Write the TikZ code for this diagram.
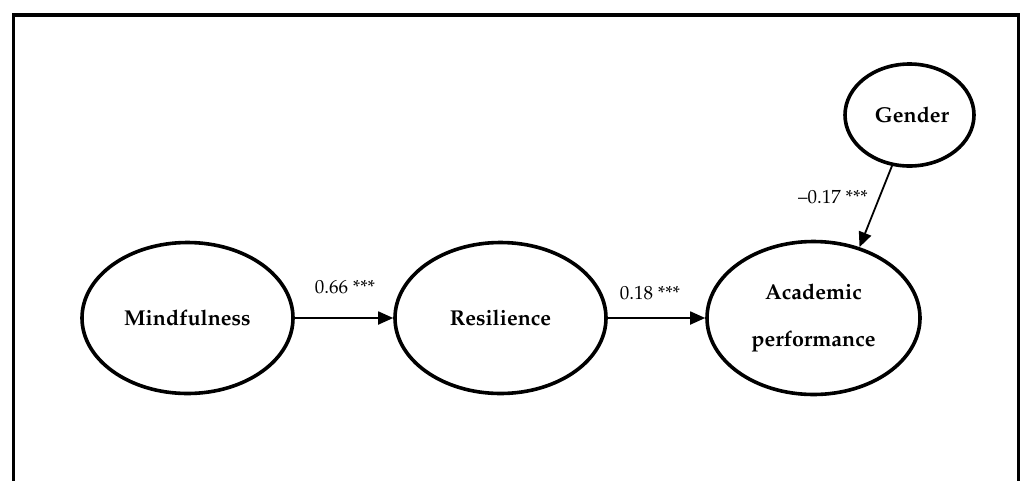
\documentclass[tikz,border=0pt]{standalone}
\usepackage[T1]{fontenc}
\usepackage{mathpazo}
\usetikzlibrary{shapes.geometric,arrows.meta}
\tikzset{
  latent/.style={ellipse, draw, line width=3.6pt, inner sep=0pt, align=center,
    font=\fontsize{21.5}{43}\selectfont\bfseries},
  path/.style={line width=1.8pt, -{Triangle[length=15pt,width=13pt]}},
  coef/.style={font=\fontsize{19}{22}\selectfont, inner sep=0pt},
  frame/.style={line width=3.6pt}
}
\begin{document}
\begin{tikzpicture}[x=1pt,y=-1pt]
\useasboundingbox (0,0) rectangle (1022,480);
\coordinate (fbl) at (13.5,482);
\coordinate (ftl) at (13.5,15);
\coordinate (ftr) at (1018.5,15);
\coordinate (fbr) at (1018.5,482);
\draw[frame] (fbl) -- (ftl) -- (ftr) -- (fbr);
\node[latent, minimum width=211pt, minimum height=151pt] (mind) at (187.5,318) {Mindfulness};
\node[latent, minimum width=211pt, minimum height=151pt] (res) at (500.5,318) {Resilience};
\node[latent, minimum width=213pt, minimum height=153pt] (acad) at (813.5,318) {Academic\\[4pt]performance};
\node[latent, minimum width=129pt, minimum height=102pt] (gen) at (909.5,115) {\hspace*{5pt}Gender};
\draw[path] (mind.east) -- (res.west);
\draw[path] (res.east) -- (acad.west);
\draw[path] (gen.-109) -- (acad.57);
\node[coef] (l1) at (345,287) {0.66 ***};
\node[coef] (l2) at (650,293) {0.18 ***};
\node[coef] (l3) at (833,197) {--0.17 ***};
\end{tikzpicture}
\end{document}
